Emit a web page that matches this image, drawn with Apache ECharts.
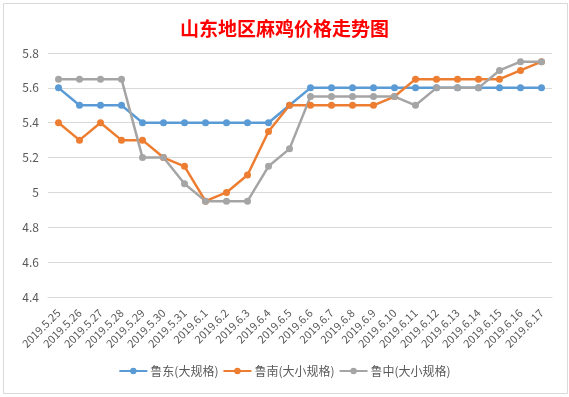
<!DOCTYPE html>
<html>
<head>
<meta charset="utf-8">
<script src="https://cdn.jsdelivr.net/npm/echarts@6/dist/echarts.min.js"></script>
<style>
  html, body { margin: 0; padding: 0; background: #fff; }
  #chart { width: 569px; height: 397px; }
</style>
</head>
<body>
<div id="chart"></div>
<script>
// 日期
const dates = [
  '2019.5.25', '2019.5.26', '2019.5.27', '2019.5.28', '2019.5.29', '2019.5.30', '2019.5.31',
  '2019.6.1', '2019.6.2', '2019.6.3', '2019.6.4', '2019.6.5', '2019.6.6', '2019.6.7',
  '2019.6.8', '2019.6.9', '2019.6.10', '2019.6.11', '2019.6.12', '2019.6.13', '2019.6.14',
  '2019.6.15', '2019.6.16', '2019.6.17'
]
// 鲁东(大规格)
const ludong = [5.6, 5.5, 5.5, 5.5, 5.4, 5.4, 5.4, 5.4, 5.4, 5.4, 5.4, 5.5, 5.6, 5.6,
  5.6, 5.6, 5.6, 5.6, 5.6, 5.6, 5.6, 5.6, 5.6, 5.6]
// 鲁南(大小规格)
const lunan = [5.4, 5.3, 5.4, 5.3, 5.3, 5.2, 5.15, 4.95, 5.0, 5.1, 5.35, 5.5, 5.5, 5.5,
  5.5, 5.5, 5.55, 5.65, 5.65, 5.65, 5.65, 5.65, 5.7, 5.75]
// 鲁中(大小规格)
const luzhong = [5.65, 5.65, 5.65, 5.65, 5.2, 5.2, 5.05, 4.95, 4.95, 4.95, 5.15, 5.25, 5.55, 5.55,
  5.55, 5.55, 5.55, 5.5, 5.6, 5.6, 5.6, 5.7, 5.75, 5.75]
const seriesNames = ['鲁东(大规格)', '鲁南(大小规格)', '鲁中(大小规格)']
const colors = ['#5B9BD5', '#ED7D31', '#A5A5A5']

const chart = echarts.init(document.getElementById('chart'))

function lineSeries(name, data) {
  return {
    name: name,
    type: 'line',
    data: data,
    symbol: 'circle',
    symbolSize: 7,
    lineStyle: { width: 2.5 }
  }
}

chart.setOption({
  color: colors,
  animation: false,
  textStyle: { fontFamily: '"Noto Sans CJK SC", "Noto Sans", sans-serif' },
  title: {
    text: '山东地区麻鸡价格走势图',
    left: 'center',
    top: 14,
    textStyle: {
      color: '#FF0000',
      fontSize: 19,
      fontWeight: 'bold'
    }
  },
  legend: {
    data: seriesNames,
    bottom: 15,
    left: 'center',
    itemWidth: 28,
    itemHeight: 8,
    itemGap: 4,
    textStyle: { color: '#595959', fontSize: 12, padding: [0, 0, 0, -2] }
  },
  grid: {
    top: 53,
    left: 48,
    right: 17,
    bottom: 100
  },
  xAxis: {
    type: 'category',
    data: dates,
    boundaryGap: true,
    axisLine: { lineStyle: { color: '#D9D9D9' } },
    axisTick: { show: false },
    axisLabel: {
      rotate: 45,
      interval: 0,
      color: '#595959',
      fontSize: 11,
      margin: 14
    }
  },
  yAxis: {
    type: 'value',
    min: 4.4,
    max: 5.8,
    interval: 0.2,
    axisLine: { show: false },
    axisTick: { show: false },
    axisLabel: {
      color: '#595959',
      fontSize: 12,
      margin: 9,
      formatter: function (v) { return String(Math.round(v * 10) / 10) }
    },
    splitLine: { lineStyle: { color: '#D9D9D9' } }
  },
  graphic: [{
    type: 'rect',
    shape: { x: 3.5, y: 3.5, width: 564, height: 390 },
    style: { fill: 'none', stroke: '#D9D9D9', lineWidth: 1 },
    silent: true,
    z: -1
  }],
  series: [
    lineSeries(seriesNames[0], ludong),
    lineSeries(seriesNames[1], lunan),
    lineSeries(seriesNames[2], luzhong)
  ]
})
</script>
</body>
</html>
